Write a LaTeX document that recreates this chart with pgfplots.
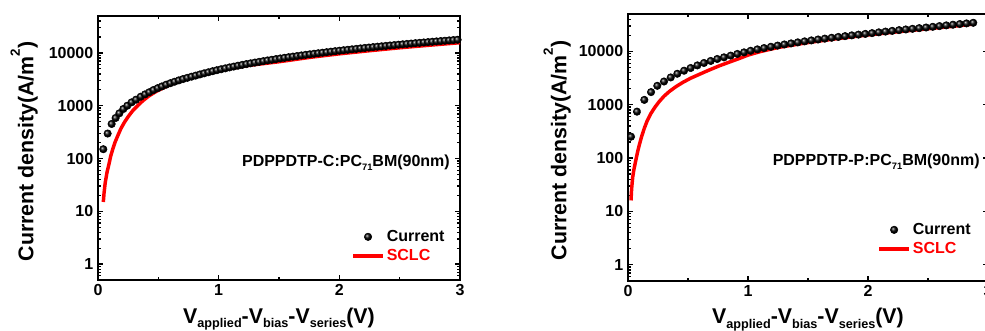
\documentclass[border=0pt]{standalone}
\usepackage{fontspec}
\setmainfont{Liberation Sans}
\usepackage{pgfplots}
\pgfplotsset{compat=1.18}
\usepackage{pgfplotstable}

\pgfplotstableread{
V J
0.044 150
0.080 297
0.113 451
0.146 585
0.177 718
0.210 866
0.243 1000
0.279 1160
0.315 1300
0.354 1480
0.390 1640
0.425 1800
0.460 1980
0.495 2150
0.530 2320
0.565 2500
0.600 2670
0.635 2845
0.670 3020
0.705 3195
0.740 3370
0.775 3545
0.810 3720
0.845 3910
0.880 4105
0.915 4300
0.950 4500
0.985 4700
1.020 4900
1.055 5100
1.090 5310
1.125 5510
1.160 5720
1.195 5930
1.230 6140
1.265 6350
1.300 6560
1.335 6770
1.370 6980
1.405 7200
1.440 7410
1.475 7630
1.510 7850
1.545 8070
1.580 8290
1.615 8510
1.650 8730
1.685 8950
1.720 9180
1.755 9400
1.790 9630
1.825 9850
1.860 10080
1.895 10310
1.930 10540
1.965 10770
2.000 11000
2.035 11230
2.070 11460
2.105 11690
2.140 11920
2.175 12160
2.210 12400
2.245 12630
2.280 12870
2.315 13110
2.350 13340
2.385 13580
2.420 13820
2.455 14060
2.490 14300
2.525 14540
2.560 14790
2.595 15030
2.630 15270
2.665 15520
2.700 15760
2.735 16010
2.770 16250
2.805 16500
2.840 16750
2.875 16990
2.910 17240
2.945 17490
2.980 17740
}\curC

\pgfplotstableread{
V J
0.044 15
0.050 22
0.060 35
0.075 55
0.089 75
0.105 110
0.122 150
0.140 200
0.163 267
0.190 370
0.218 480
0.250 620
0.287 800
0.330 1010
0.370 1230
0.420 1520
0.480 1850
0.550 2230
0.619 2620
0.700 3050
0.785 3490
0.870 3950
0.950 4340
1.060 4900
1.250 5800
1.500 6800
1.750 8200
2.000 9600
2.250 11000
2.500 12500
2.750 14000
3.000 15600
}\sclcC

\pgfplotstableread{
V J
0.025 251
0.075 740
0.136 1230
0.192 1720
0.244 2260
0.300 2720
0.356 3240
0.411 3800
0.467 4330
0.522 4870
0.578 5450
0.633 6050
0.689 6600
0.744 7190
0.800 7720
0.856 8310
0.911 8940
0.967 9570
1.022 10250
1.078 10890
1.134 11530
1.191 12180
1.247 12820
1.303 13450
1.359 14090
1.415 14730
1.472 15380
1.528 16030
1.584 16680
1.640 17320
1.697 17990
1.753 18630
1.809 19280
1.865 19930
1.921 20580
1.978 21240
2.034 21960
2.090 22710
2.146 23460
2.202 24210
2.259 24970
2.315 25720
2.371 26470
2.427 27220
2.484 27990
2.540 28850
2.596 29760
2.652 30660
2.708 31570
2.765 32490
2.821 33390
2.877 34300
}\curP

\pgfplotstableread{
V J
0.025 16
0.030 26
0.035 35
0.040 45
0.050 62
0.067 95
0.080 130
0.094 175
0.115 260
0.136 361
0.160 500
0.192 690
0.225 900
0.261 1150
0.300 1440
0.344 1765
0.400 2180
0.456 2610
0.520 3120
0.594 3700
0.670 4400
0.761 5350
0.850 6350
0.928 7350
1.000 8500
1.100 9850
1.250 11800
1.500 14600
1.750 17400
2.000 20300
2.250 23300
2.500 26500
2.700 29300
2.880 32500
}\sclcP

\pgfplotsset{
  myaxis/.style={
    scale only axis, anchor=south west,
    xmin=0, xmax=3, ymin=0.5, ymax=50000,
    xtick={0,1,2,3}, xticklabels={0,1,2,3},
    minor xtick={0.5,1.5,2.5},
    ytick={1,10,100,1000,10000}, yticklabels={1,10,100,1000,10000},
    minor ytick={0.6,0.7,0.8,0.9,2,3,4,5,6,7,8,9,20,30,40,50,60,70,80,90,200,300,400,500,600,700,800,900,2000,3000,4000,5000,6000,7000,8000,9000,20000,30000,40000},
    tick pos=both, tick align=inside,
    major tick length=3.75pt, minor tick length=2.25pt,
    every tick/.style={black, line width=1pt},
    axis line style={line width=1.5pt},
    ticklabel style={font=\bfseries\fontsize{12}{14}\selectfont},
    label style={font=\bfseries\fontsize{16}{18}\selectfont},
    xlabel={V\raisebox{-3.5pt}{\fontsize{9.5}{10}\selectfont applied}-V\raisebox{-3.5pt}{\fontsize{9.5}{10}\selectfont bias}-V\raisebox{-3.5pt}{\fontsize{9.5}{10}\selectfont series}(V)},
    ylabel={Current density(A/m\raisebox{1.2ex}{\fontsize{10}{10}\selectfont 2})},
    legend style={draw=none, fill=none, inner sep=0pt, anchor=north west,
      nodes={inner sep=1.5pt, text depth=0.15em}, cells={anchor=west},
      font=\bfseries\fontsize{12}{14}\selectfont, row sep=1.5pt},
  },
  curstyle/.style={only marks, mark=ball, mark size=2.8pt, mark options={ball color=black}},
  sclcstyle/.style={no marks, red, line width=2.6pt, line join=round},
}

\begin{document}
\begin{tikzpicture}
\useasboundingbox (0,0) rectangle (738.75pt,248.25pt);
\clip (0,0) rectangle (738.75pt,248.25pt);
\begin{axis}[ymode=log, myaxis, at={(73.5pt,38.25pt)}, width=271.5pt, height=198pt,
  legend image code/.code={\draw[mark repeat=2,mark phase=2,#1] plot coordinates {(0pt,0pt) (11.25pt,0pt) (22.5pt,0pt)};},
  xlabel style={at={(axis description cs:0.5,-0.163)}, anchor=base},
  ylabel style={at={(axis description cs:-0.204,0.487)}, anchor=center},
  legend style={at={(0.699,0.197)}}]
\addplot[curstyle] table[x=V,y=J] {\curC};
\addlegendentry{Current}
\addplot[sclcstyle] table[x=V,y=J] {\sclcC};
\addlegendentry{\textcolor{red}{SCLC}}
\node[anchor=base west, font=\bfseries\fontsize{12}{14}\selectfont] at (rel axis cs:0.385,0.429) {PDPPDTP-C:PC\raisebox{-3pt}{\fontsize{7}{7}\selectfont 71}BM(90nm)};
\end{axis}
\begin{axis}[ymode=log, myaxis, at={(471pt,37.7pt)}, width=270pt, height=200pt,
  legend image code/.code={\draw[mark repeat=2,mark phase=2,#1] plot coordinates {(0pt,0pt) (11.25pt,0pt) (22.5pt,0pt)};},
  xlabel style={at={(axis description cs:0.5,-0.16)}, anchor=base},
  ylabel style={at={(axis description cs:-0.197,0.488)}, anchor=center},
  legend style={at={(0.692,0.224)}}]
\addplot[curstyle] table[x=V,y=J] {\curP};
\addlegendentry{Current}
\addplot[sclcstyle] table[x=V,y=J] {\sclcP};
\addlegendentry{\textcolor{red}{SCLC}}
\node[anchor=base west, font=\bfseries\fontsize{12}{14}\selectfont] at (rel axis cs:0.389,0.431) {PDPPDTP-P:PC\raisebox{-3pt}{\fontsize{7}{7}\selectfont 71}BM(90nm)};
\end{axis}
\end{tikzpicture}
\end{document}
